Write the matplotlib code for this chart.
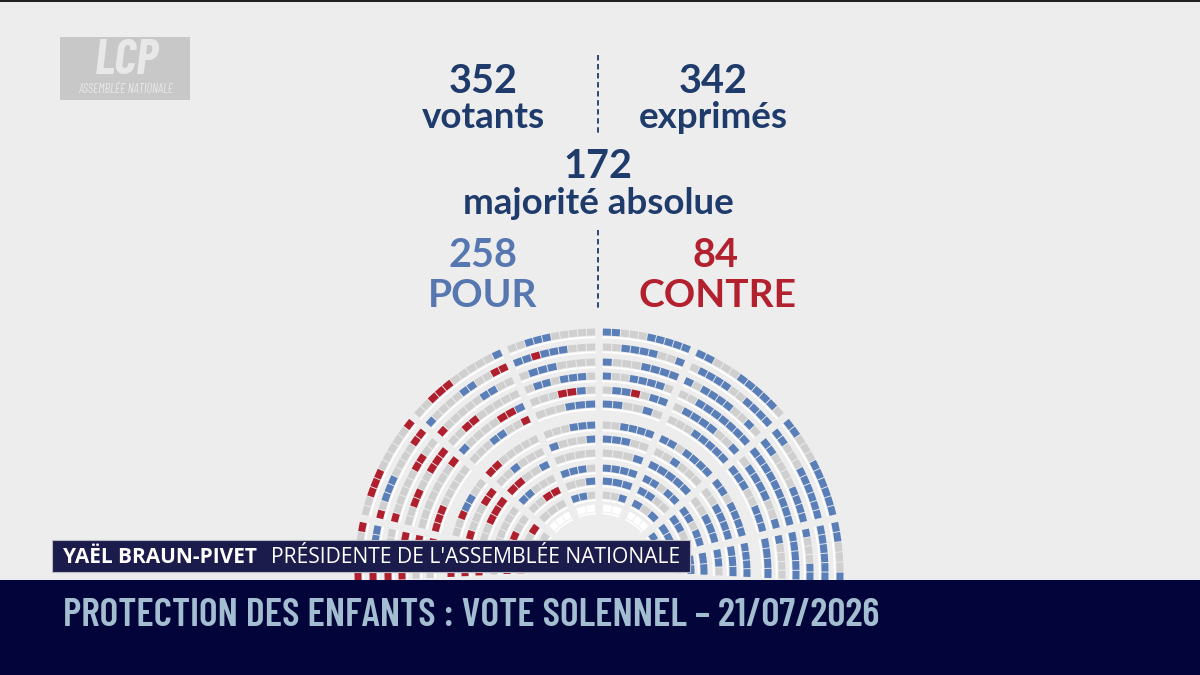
import numpy as np
import matplotlib
matplotlib.use('Agg')
import matplotlib.pyplot as plt
from matplotlib.patches import Wedge, Rectangle

# résultats du scrutin
votants = 352
exprimes = 342
majorite = 172
pour = 258
contre = 84
title = "PROTECTION DES ENFANTS : VOTE SOLENNEL – 21/07/2026"
speaker = "YAËL BRAUN-PIVET"
speaker_role = "PRÉSIDENTE DE L'ASSEMBLÉE NATIONALE"

# hémicycle : secteurs de gauche (180°) à droite (0°), votes estimés par secteur
sector_edges = [183, 167, 140, 113, 90, 67, 40, 13, -3]
sector_pour = [3, 5, 14, 31, 45, 58, 66, 36]
sector_contre = [33, 30, 17, 3, 1, 0, 0, 0]
white_sectors = [2, 3, 4, 5]   # dernier rang vide au centre

# mise en page (pixels)
W, H = 1200, 675
CX, CY = 599, H - 573
row_radii = [241, 226, 211, 197, 183, 169, 148, 134, 120, 105, 92, 78, 65]
PITCH = 9.4
HALF_AISLE = 3.4

BG = '#ededed'
NAVY = '#1f3b6b'
BLUE_TXT = '#5677b0'
RED_TXT = '#b3212f'
SEAT = {'p': '#5a7fb8', 'c': '#b01f2e', 'g': '#cfcfcf', 'w': '#ffffff'}
COND = ['Barlow Condensed', 'Roboto Condensed', 'DejaVu Sans']
LATO = ['Lato', 'DejaVu Sans']


def Y(y):
    return H - y


def spread(n, counts):
    # répartit les couleurs en petits groupes le long des rangs
    runs = [2, 3, 1, 4, 2, 1, 3, 2]
    left = dict(counts)
    done = {c: 0 for c in counts}
    out = []
    ri = 0
    while len(out) < n:
        frac = (len(out) + 1) / n
        best = max([c for c in counts if left[c] > 0],
                   key=lambda c: counts[c] * frac - done[c])
        for _ in range(runs[ri % len(runs)]):
            if len(out) >= n or left[best] == 0:
                break
            out.append(best)
            left[best] -= 1
            done[best] += 1
        ri += 1
    return out


fig = plt.figure(figsize=(12, 6.75), dpi=100)
fig.patch.set_facecolor(BG)
ax = fig.add_axes([0, 0, 1, 1])
ax.set_xlim(0, W)
ax.set_ylim(0, H)
ax.axis('off')
ax.set_facecolor(BG)

# sièges
for s in range(len(sector_pour)):
    a_hi, a_lo = sector_edges[s], sector_edges[s + 1]
    seats = []
    for k, r in enumerate(row_radii):
        pad = np.degrees(HALF_AISLE / r)
        lo, hi = a_lo + pad, a_hi - pad
        # ligne blanche (pupitre) sous chaque rang
        ax.add_patch(Wedge((CX, CY), r - 4.4, lo, hi, width=1.8,
                           facecolor='white', edgecolor='none', zorder=1))
        n = max(1, int(round(np.radians(hi - lo) * r / PITCH)))
        step = (hi - lo) / n
        gap = np.degrees(0.45 / r)
        for j in range(n):
            seats.append((k, hi - (j + 1) * step + gap, hi - j * step - gap, r))
    empty = [x for x in seats if s in white_sectors and x[0] == len(row_radii) - 1]
    used = [x for x in seats if x not in empty]
    counts = {'p': sector_pour[s], 'c': sector_contre[s]}
    counts['g'] = len(used) - counts['p'] - counts['c']
    colors = spread(len(used), counts)
    for (k, t1, t2, r), c in list(zip(used, colors)) + [(x, 'w') for x in empty]:
        ax.add_patch(Wedge((CX, CY), r + 3.5, t1, t2, width=7,
                           facecolor=SEAT[c], edgecolor='none', zorder=2))

# chiffres du vote
big = dict(fontfamily=LATO, fontweight='bold', ha='center', va='baseline')
ax.text(483, Y(93), str(votants), color=NAVY, fontsize=28.5, **big)
ax.text(483, Y(128), "votants", color=NAVY, fontsize=26.5, **big)
ax.text(713, Y(93), str(exprimes), color=NAVY, fontsize=28.5, **big)
ax.text(713, Y(128), "exprimés", color=NAVY, fontsize=26.5, **big)
ax.text(598, Y(178), str(majorite), color=NAVY, fontsize=28.5, **big)
ax.text(598, Y(214), "majorité absolue", color=NAVY, fontsize=26.5, **big)
ax.text(483, Y(267), str(pour), color=BLUE_TXT, fontsize=28.5, **big)
ax.text(483, Y(307), "POUR", color=BLUE_TXT, fontsize=28, **big)
ax.text(716, Y(267), str(contre), color=RED_TXT, fontsize=28.5, **big)
ax.text(718, Y(307), "CONTRE", color=RED_TXT, fontsize=28, **big)
for y0, y1 in [(55, 135), (230, 310)]:
    ax.plot([598, 598], [Y(y0), Y(y1)], color=NAVY, lw=1.3,
            linestyle=(0, (3, 2)), zorder=3)

# logo LCP
ax.add_patch(Rectangle((60, Y(100)), 130, 63, facecolor='#c8c8c8',
                       edgecolor='none', zorder=3))
ax.text(127, Y(74), "LCP", color='#e8e8e8', fontsize=35, fontweight='bold',
        fontstyle='italic', ha='center', va='baseline', fontfamily=COND, zorder=4)
ax.text(126, Y(93), "ASSEMBLÉE NATIONALE", color='#e8e8e8', fontsize=9,
        fontstyle='italic', ha='center', va='baseline', fontfamily=COND, zorder=4)

# bandeau du nom
ax.add_patch(Rectangle((52, Y(572)), 638, 32, facecolor='#1c1c4c',
                       edgecolor='#b9b9c4', lw=0.8, zorder=5))
ax.text(63, Y(563), speaker, color='white', fontsize=15, fontweight='bold',
        ha='left', va='baseline', fontfamily=['Open Sans', 'DejaVu Sans'], zorder=6)
ax.text(271, Y(563), speaker_role, color='white', fontsize=15.2,
        ha='left', va='baseline', fontfamily=['Open Sans', 'DejaVu Sans'], zorder=6)

# bandeau du titre
ax.add_patch(Rectangle((0, 0), W, H - 580, facecolor='#03053a',
                       edgecolor='none', zorder=5))
t = ax.text(63, Y(626), title, color='#a3bdd1', fontsize=30, fontweight=600,
            ha='left', va='baseline', fontfamily=COND, zorder=6)
fig.canvas.draw()
w = t.get_window_extent().width
t.set_fontsize(30 * 817 / w)

# fine bordure noire en haut
ax.add_patch(Rectangle((0, H - 2), W, 2, facecolor='#222222', edgecolor='none', zorder=6))

plt.savefig('out.png', dpi=100, facecolor=BG)
